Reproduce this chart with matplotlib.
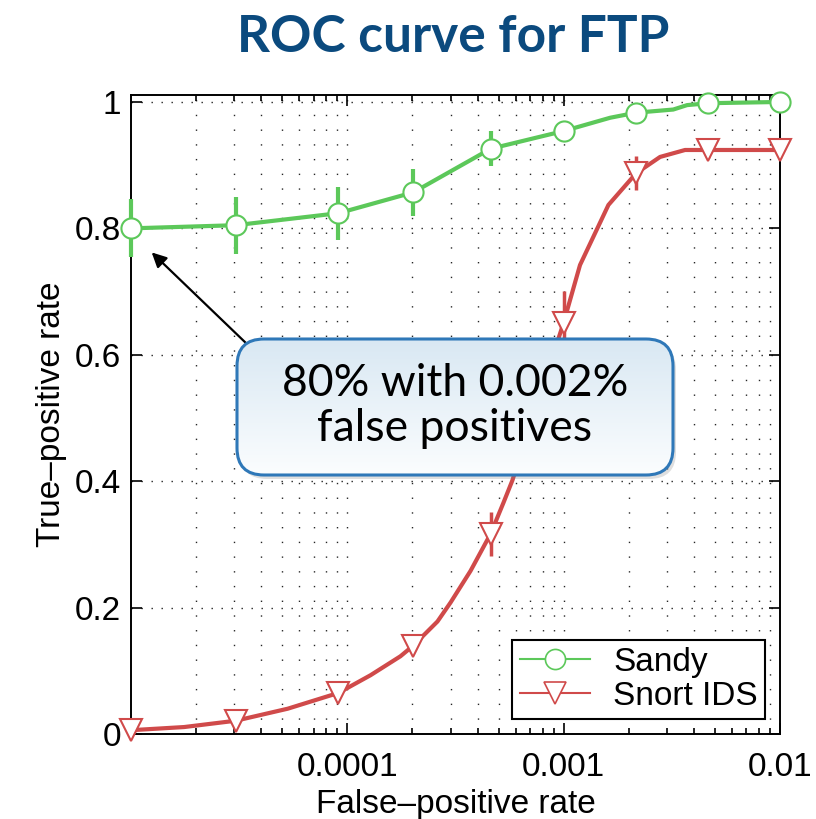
import matplotlib as mpl
mpl.use('Agg')
import numpy as np
import matplotlib.pyplot as plt
from matplotlib.patches import FancyBboxPatch
from matplotlib.colors import LinearSegmentedColormap
from matplotlib.ticker import LogLocator, FixedLocator, FixedFormatter, NullFormatter

# marker points
fpr = [1e-5, 3.05e-5, 9.1e-5, 2.02e-4, 4.6e-4, 1.0e-3, 2.16e-3, 4.66e-3, 1e-2]
sandy_tpr = [0.800, 0.805, 0.824, 0.857, 0.926, 0.954, 0.983, 0.998, 1.000]
sandy_err = [0.046, 0.045, 0.042, 0.037, 0.028, 0.008, 0.005, 0.004, 0.0]
snort_tpr = [0.006, 0.021, 0.065, 0.140, 0.317, 0.651, 0.887, 0.924, 0.924]
snort_err = [0.004, 0.005, 0.006, 0.008, 0.035, 0.050, 0.027, 0.012, 0.012]

# full curves (markers are only on a subset)
sandy_curve_x = [1e-5, 3.05e-5, 9.1e-5, 2.02e-4, 4.6e-4, 1.0e-3, 1.64e-3, 2.16e-3, 3.21e-3, 3.72e-3, 4.66e-3, 1e-2]
sandy_curve_y = [0.800, 0.805, 0.824, 0.857, 0.926, 0.954, 0.975, 0.983, 0.988, 0.995, 0.998, 1.000]
snort_curve_x = [1e-5, 1.76e-5, 3.05e-5, 5.3e-5, 9.1e-5, 1.28e-4, 1.76e-4, 2.02e-4, 2.61e-4, 3.0e-4,
                 3.71e-4, 4.6e-4, 5.27e-4, 5.79e-4, 1.0e-3, 1.19e-3, 1.61e-3, 2.16e-3, 2.79e-3, 3.64e-3,
                 4.66e-3, 1e-2]
snort_curve_y = [0.006, 0.011, 0.021, 0.040, 0.065, 0.093, 0.123, 0.140, 0.178, 0.208,
                 0.258, 0.317, 0.366, 0.401, 0.651, 0.742, 0.837, 0.887, 0.913, 0.924,
                 0.924, 0.924]

xticks = [1e-4, 1e-3, 1e-2]
xticklabels = ['0.0001', '0.001', '0.01']
yticks = [0, 0.2, 0.4, 0.6, 0.8, 1.0]
yticklabels = ['0', '0.2', '0.4', '0.6', '0.8', '1']

green = '#5cc85a'
red = '#d04a4a'
W, H = 816, 819

plt.rcParams['font.family'] = ['Liberation Sans', 'DejaVu Sans']
fig = plt.figure(figsize=(W / 100, H / 100), dpi=100)
ax = fig.add_axes([131 / W, (H - 734) / H, (780 - 131) / W, (734 - 95) / H])

ax.set_xscale('log')
ax.set_xlim(1e-5, 1e-2)
ax.set_ylim(0, 1.011)

ax.errorbar(fpr, sandy_tpr, yerr=sandy_err, fmt='none', ecolor=green, elinewidth=3, capsize=0, zorder=3, clip_on=False)
ax.errorbar(fpr, snort_tpr, yerr=snort_err, fmt='none', ecolor=red, elinewidth=2.5, capsize=0, zorder=3, clip_on=False)
ax.plot(sandy_curve_x, sandy_curve_y, color=green, lw=3, zorder=4, clip_on=False)
ax.plot(snort_curve_x, snort_curve_y, color=red, lw=3, zorder=4, clip_on=False)
ax.plot(fpr, sandy_tpr, 'o', ms=14.5, mfc='white', mec=green, mew=1.5, zorder=5, clip_on=False)
ax.plot(fpr, snort_tpr, 'v', ms=16, mfc='white', mec=red, mew=1.5, zorder=5, clip_on=False)

# legend proxies
h1, = ax.plot([], [], '-o', color=green, lw=1.5, ms=14.5, mfc='white', mec=green, mew=1.2)
h2, = ax.plot([], [], '-v', color=red, lw=1.5, ms=16, mfc='white', mec=red, mew=1.2)
leg = ax.legend([h1, h2], ['Sandy', 'Snort IDS'], loc='lower right', fontsize=24, numpoints=1,
                handlelength=2.1, handletextpad=0.7, labelspacing=0.08, borderpad=0.22,
                borderaxespad=0.45, fancybox=False, framealpha=1)
leg.get_frame().set_edgecolor('black')
leg.get_frame().set_linewidth(1.5)
leg.set_zorder(10)

# ticks / grid, matlab style
ax.xaxis.set_major_locator(FixedLocator(xticks))
ax.xaxis.set_major_formatter(FixedFormatter(xticklabels))
ax.xaxis.set_minor_locator(LogLocator(base=10, subs=np.arange(2, 10)))
ax.xaxis.set_minor_formatter(NullFormatter())
ax.yaxis.set_major_locator(FixedLocator(yticks))
ax.yaxis.set_major_formatter(FixedFormatter(yticklabels))
ax.tick_params(which='both', direction='in', top=True, right=True, labelsize=24, width=1.2)
ax.tick_params(axis='x', pad=13)
ax.tick_params(axis='y', pad=7)
ax.tick_params(which='major', length=8)
ax.tick_params(which='minor', length=4)
ax.grid(True, axis='y', which='major', color='0.15', lw=1, linestyle=(0, (1, 6.2)))
ax.grid(True, axis='x', which='both', color='0.15', lw=1, linestyle=(0, (1, 9.6)))
for s in ax.spines.values():
    s.set_linewidth(1.4)

ax.set_xlabel('False\u2013positive rate', fontsize=24, labelpad=4)
ax.set_ylabel('True\u2013positive rate', fontsize=24, labelpad=6)

fig.text(453 / W, 1 - 37 / H, 'ROC curve for FTP', ha='center', va='center', family='Lato',
         fontweight='bold', fontsize=37, color='#0b4a7e')

# arrow to the first sandy point
ax.annotate('', xy=(1.22e-5, 0.765), xycoords='data', xytext=(248, H - 345), textcoords='figure pixels',
            arrowprops=dict(arrowstyle='-|>', color='black', lw=1.6, mutation_scale=22), zorder=6)

# callout box with gradient fill, drawn in pixel coordinates
ov = fig.add_axes([0, 0, 1, 1], zorder=5)
ov.set_xlim(0, W)
ov.set_ylim(H, 0)
ov.axis('off')
bx0, bx1, by0, by1 = 237, 673, 339, 475
shadow = FancyBboxPatch((bx0 + 3, by0 + 4), bx1 - bx0, by1 - by0,
                        boxstyle='round,pad=0,rounding_size=27', fc='0.5', ec='none', alpha=0.25)
ov.add_patch(shadow)
box = FancyBboxPatch((bx0, by0), bx1 - bx0, by1 - by0,
                     boxstyle='round,pad=0,rounding_size=27', fc='none', ec='#2f78b8', lw=2.2, zorder=3)
ov.add_patch(box)
cmap = LinearSegmentedColormap.from_list('callout', ['#d9e8f3', '#fbfdfe'])
img = ov.imshow(np.linspace(0, 1, 200).reshape(-1, 1), cmap=cmap, extent=(bx0, bx1, by1, by0),
                aspect='auto', zorder=2)
img.set_clip_path(box)
ov.set_xlim(0, W)
ov.set_ylim(H, 0)
ov.text((bx0 + bx1) / 2, 406, '80% with 0.002%\nfalse positives', ha='center', va='center',
        family='Lato', fontsize=32, linespacing=1.1, color='black', zorder=4)

fig.savefig('out.png', dpi=100)
